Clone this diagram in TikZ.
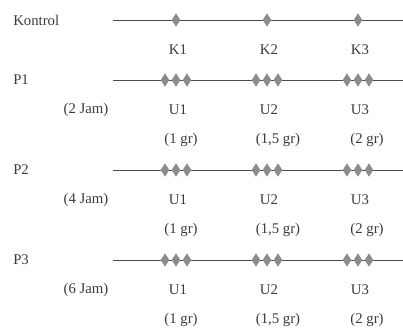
\documentclass[tikz,border=0pt]{standalone}
\usepackage{fontspec}
\setmainfont{Liberation Serif}
\usetikzlibrary{shapes.geometric}

\definecolor{inkgray}{HTML}{3A3A3A}
\definecolor{railgray}{HTML}{4A4A4A}
\definecolor{gemgray}{HTML}{8C8C8C}

\tikzset{
    gem/.style={diamond, fill=gemgray, draw=none, inner sep=0pt,
        minimum width=0.22cm, minimum height=0.34cm},
    lbl/.style={font=\fontsize{10.5}{12}\selectfont, text=inkgray, inner sep=0pt},
    track/.style={draw=railgray, line width=0.7pt}
}

\begin{document}
\begin{tikzpicture}[x=0.025cm, y=-0.025cm]
    \useasboundingbox (0,0) rectangle (403,331);

    % kontrol
    \node[lbl, anchor=west] (kontrol) at (13,20) {Kontrol};
    \coordinate (k-a) at (113,20);
    \coordinate (k-b) at (403,20);
    \draw[track] (k-a) -- (k-b);
    \foreach \u/\x in {1/176, 2/267, 3/358} {
        \node[gem] (dk\u) at (\x,20) {};
        \node[lbl] (k\u) at (\x+2,50) {K\u};
    }

    % perlakuan
    \foreach \p/\y/\h in {1/80/2, 2/170/4, 3/260/6} {
        \node[lbl, anchor=west] (p\p) at (13,\y) {P\p};
        \coordinate (p\p-a) at (113,\y);
        \coordinate (p\p-b) at (403,\y);
        \draw[track] (p\p-a) -- (p\p-b);
        \node[lbl] (jam\p) at (86,\y+30) {(\h\ Jam)};
        \foreach \u/\x/\g/\gx in {1/176/1/181, 2/267/{1,5}/278, 3/358/2/367} {
            \node[gem] (d\p\u a) at (\x-11,\y) {};
            \node[gem] (d\p\u b) at (\x,\y) {};
            \node[gem] (d\p\u c) at (\x+11,\y) {};
            \node[lbl] (u\p\u) at (\x+2,\y+30) {U\u};
            \node[lbl] (g\p\u) at (\gx,\y+60) {(\g\ gr)};
        }
    }
\end{tikzpicture}
\end{document}
